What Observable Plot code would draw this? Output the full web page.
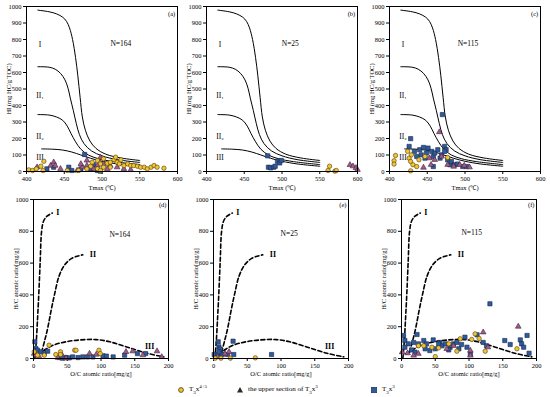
<!DOCTYPE html>
<html><head><meta charset="utf-8">
<script src="https://cdn.jsdelivr.net/npm/d3@7"></script>
<script src="https://cdn.jsdelivr.net/npm/@observablehq/plot@0.6"></script>
<style>
body{margin:0;background:#fff;}
#fig{position:relative;width:550px;height:397px;background:#fff;font-family:"Liberation Serif",serif;overflow:hidden;}
.leg{position:absolute;top:382px;font-size:7px;display:flex;align-items:center;gap:4px;white-space:nowrap;color:#000;}
</style></head><body>
<div id="fig"></div>
<script>
// ---- tick labels ----
const tmaxTicks = [400, 450, 500, 550, 600];
const hiTicks = [0, 100, 200, 300, 400, 500, 600, 700, 800, 900, 1000];
const ocTicks = [0, 50, 100, 150, 200];
const hcTicks = [0, 200, 400, 600, 800, 1000];

// ---- classification curves, HI vs Tmax ----
const curveI = [[415,978],[430,968],[440,955],[448,935],[453,910],[457,870],[461,800],[465,690],[468,580],[471,450],[474,330],[478,250],[484,185],[492,140],[505,105],[525,82],[550,67]];
const curveII1 = [[415,635],[430,632],[438,620],[445,595],[451,555],[455,505],[458,445],[462,370],[466,290],[470,225],[476,170],[486,125],[500,95],[520,72],[550,55]];
const curveII2 = [[415,345],[430,342],[440,330],[448,310],[454,275],[459,230],[465,180],[472,135],[482,100],[495,78],[515,60],[550,42]];
const curveIII = [[420,137],[435,135],[448,130],[460,118],[472,100],[485,80],[500,62],[520,46],[550,32]];

// ---- classification curves, HI vs OI ----
const dashI = [[2,0],[4,100],[6,250],[8,420],[10,620],[12,800],[15,865],[20,895],[28,915]];
const dashII = [[12,40],[17,120],[21,190],[26,300],[31,400],[38,520],[46,588],[56,628],[66,645],[73,652]];
const dashIII = [[7,30],[15,50],[28,82],[48,105],[70,117],[93,119],[113,105],[138,73],[168,33],[193,10]];

// ---- sample data: [Tmax, HI] ----
const aYellow = [[403,10],[408,6],[413,16],[419,32],[423,62],[422,6],[454,6],[469,6],[485,32],[487,56],[494,67],[498,46],[502,77],[507,50],[511,56],[516,71],[518,87],[520,56],[523,46],[525,71],[529,36],[534,46],[538,36],[542,36],[547,32],[551,26],[556,26],[560,16],[565,26],[569,36],[573,26],[582,20],[502,26],[511,26],[494,16],[480,16],[498,6]];
const aPurple = [[414,26],[432,36],[436,56],[438,36],[445,16],[467,6],[474,26],[480,67],[489,16],[494,36],[502,46],[511,36],[520,26],[529,16],[480,36],[498,85],[507,16],[538,10],[472,46]];
const aBlue = [[477,103],[456,26],[460,6],[472,16],[485,16],[494,6],[498,2],[489,42],[427,16],[436,26]];
const bYellow = [[563,32],[561,6],[570,2],[572,6]];
const bPurple = [[590,40],[594,32],[598,22],[600,10]];
const bBlue = [[481,95],[482,26],[485,22],[489,26],[491,32],[494,62],[497,52],[499,67]];
const cYellow = [[408,97],[406,65],[406,45],[424,122],[426,81],[429,101],[428,61],[431,41],[436,30],[439,71],[428,4],[447,91],[477,85]];
const cPurple = [[466,239],[445,24],[453,81],[460,71],[469,91],[477,41],[485,30],[493,41],[499,36],[506,26],[455,41]];
const cBlue = [[470,345],[428,199],[426,152],[433,122],[436,91],[440,132],[445,146],[449,112],[451,142],[456,122],[458,91],[460,112],[464,132],[469,101],[473,152],[475,132],[477,71],[480,41],[482,61],[486,41],[490,45],[497,30],[502,30],[458,30],[442,101],[447,81],[473,122],[467,81]];

// ---- sample data: [O/C, H/C] ----
const dYellow = [[23,84],[40,42],[40,25],[61,52],[63,52],[97,52],[99,31],[1,42],[6,21],[33,25],[16,21]];
const dPurple = [[1,31],[3.5,21],[8.5,10],[36,6],[41,31],[83,31],[93,25],[137,42],[147,46],[162,21],[183,46],[190,10],[48,2]];
const dBlue = [[2,105],[3.5,63],[6,52],[11,42],[16,31],[21,46],[48,6],[53,4],[58,10],[66,6],[73,10],[80,10],[88,10],[103,17],[108,15],[118,10],[135,21],[154,31],[166,31],[38,6],[43,2]];
const eYellow = [[2.5,2],[11,2],[25,2],[62,4]];
const ePurple = [[6,10],[23,42],[17,30]];
const eBlue = [[7,105],[8,73],[10,59],[11,31],[29,109],[1,25],[6,25],[13,25],[21,25],[30,25],[86,25],[8,42]];
const fYellow = [[50,12],[70,92],[82,46],[87,124],[55,67],[109,155],[124,46],[171,61],[33,80],[45,71],[25,80],[104,120],[115,126]];
const fPurple = [[121,165],[173,201],[9,34],[25,30],[67,61],[77,80],[102,50],[128,71],[18,19],[1,40],[102,19]];
const fBlue = [[131,344],[3,145],[5,113],[10,92],[18,101],[23,151],[15,54],[20,40],[25,92],[33,113],[37,92],[42,50],[47,117],[57,101],[60,80],[65,92],[72,71],[77,92],[82,101],[89,88],[94,134],[97,71],[102,29],[112,149],[121,101],[126,80],[153,113],[161,88],[176,117],[178,92],[181,71],[186,145],[189,33],[55,92],[50,61],[70,54],[35,61],[5,71],[85,61]];

// ---- panel annotations ----
const topNames = ["(a)", "(b)", "(c)"];
const topCounts = ["N=164", "N=25", "N=115"];
const botNames = ["(d)", "(e)", "(f)"];
const botCounts = ["N=164", "N=25", "N=115"];
const topTypeLabels = ["I", "II₁", "II₂", "III"];
const topTypeHI = [770, 460, 210, 85];
const botTypeLabels = ["I", "II", "III"];

const yellowFill = "#f4c430", purpleFill = "#a35b8c", blueFill = "#2f5a9e";
const fig = document.getElementById("fig");
const font = {fontFamily: "'Liberation Serif', serif", fontSize: "6.5px", background: "transparent", overflow: "visible", color: "black"};

function dots(yel, pur, blu) {
  return [
    Plot.dot(blu, {x: d => d[0], y: d => d[1], symbol: "square", r: 2.4, fill: blueFill, stroke: "#1b2a48", strokeWidth: 0.6}),
    Plot.dot(pur, {x: d => d[0], y: d => d[1], symbol: "triangle", r: 2.1, fill: purpleFill, stroke: "#3b2038", strokeWidth: 0.6}),
    Plot.dot(yel, {x: d => d[0], y: d => d[1], symbol: "circle", r: 2.2, fill: yellowFill, stroke: "#4a3d10", strokeWidth: 0.6})
  ];
}
const line = (data, extra) => Plot.line(data, {x: d => d[0], y: d => d[1], curve: "catmull-rom", stroke: "black", ...extra});
const place = (svg, left, top) => {
  svg.style.position = "absolute"; svg.style.left = left + "px"; svg.style.top = top + "px";
  fig.appendChild(svg);
};

function topPanel(i, yel, pur, blu, left) {
  const svg = Plot.plot({
    width: 185, height: 195, marginLeft: 26, marginRight: 8, marginTop: 6, marginBottom: 24,
    style: font,
    x: {domain: [400, 600], ticks: tmaxTicks, tickFormat: d => String(d), tickSize: 3, tickPadding: 2, label: "Tmax (℃)", labelAnchor: "center", labelArrow: "none", labelOffset: 18},
    y: {domain: [0, 1000], ticks: hiTicks, tickFormat: d => String(d), tickSize: 3, tickPadding: 2, label: "HI (mg HC/g TOC)", labelAnchor: "center", labelArrow: "none", labelOffset: 20},
    marks: [
      line(curveI, {strokeWidth: 1}), line(curveII1, {strokeWidth: 1}), line(curveII2, {strokeWidth: 1}), line(curveIII, {strokeWidth: 1}),
      Plot.text(topTypeLabels, {x: 418, y: (d, j) => topTypeHI[j], text: d => d, fontSize: 7.5, fill: "black"}),
      Plot.text([topCounts[i]], {x: [525, 511, 504][i], y: 775, text: d => d, fontSize: 7.5, fill: "black"}),
      Plot.text([topNames[i]], {x: 597, y: 955, text: d => d, textAnchor: "end", fontSize: 6.5, fill: "black"}),
      ...dots(yel, pur, blu),
      Plot.frame({stroke: "black", strokeWidth: 1})
    ]
  });
  place(svg, left, 0);
}

function botPanel(i, yel, pur, blu, left) {
  const svg = Plot.plot({
    width: 185, height: 183, marginLeft: 33, marginRight: 17, marginTop: 4, marginBottom: 20,
    style: font,
    x: {domain: [0, 200], ticks: ocTicks, tickFormat: d => String(d), tickSize: 3, tickPadding: 2, label: "O/C atomic ratio[mg/g]", labelAnchor: "center", labelArrow: "none", labelOffset: 17},
    y: {domain: [0, 1000], ticks: hcTicks, tickFormat: d => String(d), tickSize: 3, tickPadding: 2, label: "H/C atomic ratio[mg/g]", labelAnchor: "center", labelArrow: "none", labelOffset: 20},
    marks: [
      line(dashI, {strokeWidth: 1.6, strokeDasharray: "4,2.5"}),
      line(dashII, {strokeWidth: 1.6, strokeDasharray: "4,2.5"}),
      line(dashIII, {strokeWidth: 1.6, strokeDasharray: "4,2.5"}),
      Plot.text(i === 2 ? botTypeLabels.slice(0, 2) : botTypeLabels, {x: (d, j) => [36, 88, 172][j], y: (d, j) => [918, 652, 78][j], text: d => d, fontSize: 8, fontWeight: "bold", fill: "black"}),
      Plot.text([botCounts[i]], {x: [128, 112, 104][i], y: [780, 784, 795][i], text: d => d, fontSize: 7.5, fill: "black"}),
      Plot.text([botNames[i]], {x: 197, y: 963, text: d => d, textAnchor: "end", fontSize: 6.5, fill: "black"}),
      ...dots(yel, pur, blu),
      Plot.frame({stroke: "black", strokeWidth: 1})
    ]
  });
  place(svg, left, 195);
}

topPanel(0, aYellow, aPurple, aBlue, 0);
topPanel(1, bYellow, bPurple, bBlue, 180);
topPanel(2, cYellow, cPurple, cBlue, 363);
botPanel(0, dYellow, dPurple, dBlue, 0);
botPanel(1, eYellow, ePurple, eBlue, 180);
botPanel(2, fYellow, fPurple, fBlue, 368);

// legend
const legendItems = [
  {left: 177, shape: `<circle cx="4" cy="4" r="2.4" fill="${yellowFill}" stroke="#4a3d10" stroke-width="0.8"/>`, html: "T<sub>3</sub>x<sup>4+5</sup>"},
  {left: 236, shape: `<path d="M4 1 L7 6.5 L1 6.5 Z" fill="#2a2a2a"/>`, html: "the upper section of T<sub>3</sub>x<sup>3</sup>"},
  {left: 370, shape: `<rect x="1.3" y="1.3" width="5.4" height="5.4" fill="${blueFill}" stroke="#1b2a48" stroke-width="0.6"/>`, html: "T<sub>3</sub>x<sup>3</sup>"}
];
for (const it of legendItems) {
  const d = document.createElement("div");
  d.className = "leg"; d.style.left = it.left + "px";
  d.innerHTML = `<svg width="8" height="8">${it.shape}</svg><span style="line-height:10px">${it.html.replace(/<sub>/g,'<sub style="font-size:5px">').replace(/<sup>/g,'<sup style="font-size:5px">')}</span>`;
  fig.appendChild(d);
}
</script>
</body></html>
